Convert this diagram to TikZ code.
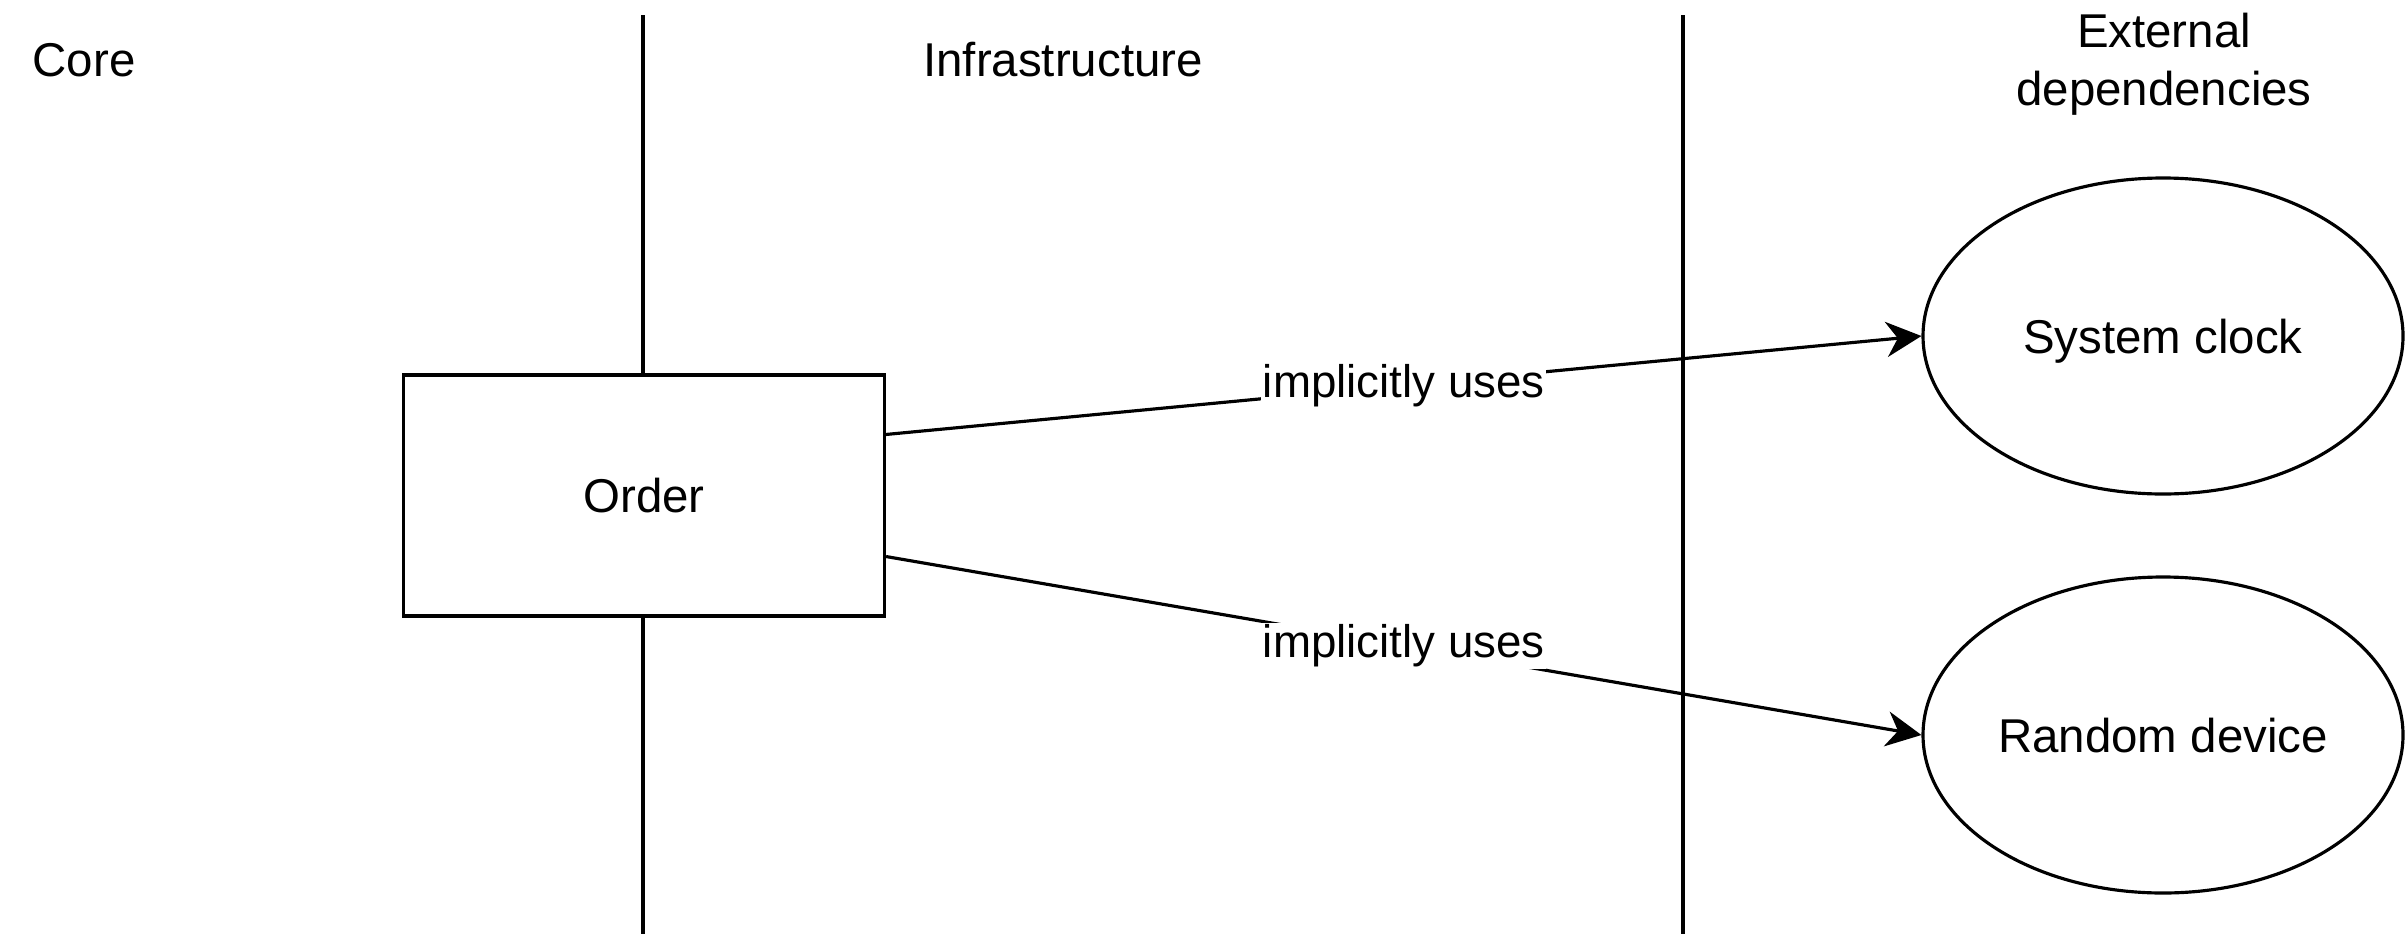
\documentclass[tikz,border=0pt]{standalone}
\usepackage{fontspec}
\setmainfont{Liberation Sans}
\usetikzlibrary{positioning, shapes.geometric, arrows.meta, calc}

\begin{document}
\begin{tikzpicture}[
    font=\fontsize{13.5}{15.5}\selectfont,
    line width=0.9pt,
    entity/.style={rectangle, draw, fill=white, minimum width=4.81cm, minimum height=2.41cm},
    device/.style={ellipse, draw, fill=white, inner sep=0pt, text depth=0pt, minimum width=4.80cm, minimum height=3.16cm},
    layer/.style={inner sep=0pt},
    arrow/.style={-{Stealth[length=10pt, width=10pt]}},
    edgelabel/.style={fill=white, inner sep=0.5pt, font=\fontsize{13}{15}\selectfont}
]
\useasboundingbox (0,0) rectangle (24.08,9.40);

% Layer borders
\coordinate (coretop) at (6.43,9.25);
\coordinate (corebottom) at (6.43,0.06);
\coordinate (infratop) at (16.83,9.25);
\coordinate (infrabottom) at (16.83,0.06);
\draw (coretop) -- (corebottom);
\draw (infratop) -- (infrabottom);

% Layer titles
\node[layer] (core) at (0.84,8.80) {Core};
\node[layer] (infra) at (10.63,8.80) {Infrastructure};
\node[layer, align=center, font=\fontsize{13.5}{16.5}\selectfont] (external) at (21.64,8.76) {External\\dependencies};

% Domain entity
\node[entity] (order) at (6.44,4.445) {Order};

% External devices
\node[device] (clock) at (21.63,6.04) {System clock};
\node[device] (random) at (21.63,2.05) {Random device};

% Arrows
\coordinate (clockout) at ($(order.north east)!0.25!(order.south east)$);
\coordinate (randomout) at ($(order.north east)!0.75!(order.south east)$);
\draw[arrow] (clockout) -- node[edgelabel] (uses1) {implicitly uses} (clock.west);
\draw[arrow] (randomout) -- node[edgelabel] (uses2) {implicitly uses} (random.west);
\end{tikzpicture}
\end{document}
